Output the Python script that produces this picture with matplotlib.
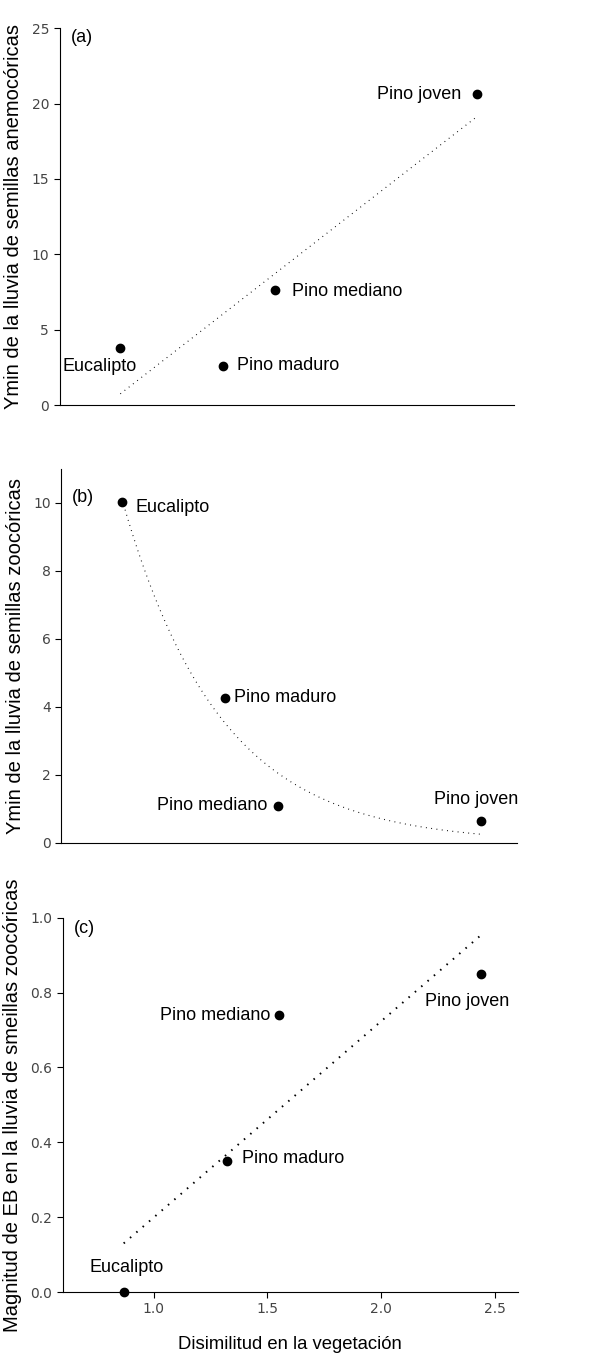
import numpy as np
import matplotlib
matplotlib.use('Agg')
import matplotlib.pyplot as plt

plt.rcParams['font.family'] = ['Liberation Sans', 'DejaVu Sans']

# Datos
sitios = ['Eucalipto', 'Pino maduro', 'Pino mediano', 'Pino joven']
disimilitud = [0.868, 1.32, 1.551, 2.44]
ymin_anemo = [3.81, 2.61, 7.63, 20.62]
ymin_zoo = [10.03, 4.26, 1.10, 0.66]
magnitud_eb = [0.0, 0.35, 0.739, 0.85]

ticks_a = [0, 5, 10, 15, 20, 25]
ticks_b = [0, 2, 4, 6, 8, 10]
ticks_c = [0.0, 0.2, 0.4, 0.6, 0.8, 1.0]
ticks_x = [1.0, 1.5, 2.0, 2.5]

# posicion de las etiquetas (offset en pixeles, alineacion)
etq_a = [(-21, -19, 'center'), (14, 0, 'left'), (17, -1, 'left'), (-16, 0, 'right')]
etq_b = [(13, -6, 'left'), (9, 1, 'left'), (-10, 0, 'right'), (-4, 21, 'center')]
etq_c = [(3, 24, 'center'), (15, 2, 'left'), (-9, 0, 'right'), (-14, -28, 'center')]

fig = plt.figure(figsize=(5.97, 13.65), dpi=100)
px = 1 / 1365.0
ax_a = fig.add_axes([59.5 / 597, 1 - 405 * px, 454 / 597, 376.7 * px])
ax_b = fig.add_axes([61 / 597, 1 - 843 * px, 456 / 597, 374 * px])
ax_c = fig.add_axes([62.7 / 597, 1 - 1292 * px, 455 / 597, 374.3 * px])

x = np.array(disimilitud)


def estilo(ax, yticks, ylim, fmt):
    for s in ['top', 'right']:
        ax.spines[s].set_visible(False)
    ax.set_xlim(0.6, 2.6)
    ax.set_ylim(*ylim)
    ax.set_yticks(yticks)
    ax.set_yticklabels([fmt.format(t) for t in yticks])
    ax.tick_params(direction='out', length=4, width=0.8, colors='black',
                   labelcolor='#444444', labelsize=10)
    for lb in ax.get_yticklabels() + ax.get_xticklabels():
        lb.set_family(['Liberation Sans Narrow', 'DejaVu Sans'])


def etiquetas(ax, yv, pos):
    for nombre, xi, yi, (dx, dy, ha) in zip(sitios, x, yv, pos):
        ax.annotate(nombre, (xi, yi), xytext=(dx * 0.72, dy * 0.72),
                    textcoords='offset points', ha=ha, va='center', fontsize=13)


# (a) regresion lineal
ya = np.array(ymin_anemo)
m, b = np.polyfit(x, ya, 1)
ax_a.plot([x.min(), x.max()], [m * x.min() + b, m * x.max() + b], ':',
          color='black', lw=0.8, dashes=(0.8, 4))
ax_a.plot(x, ya, 'o', color='black', ms=6)
estilo(ax_a, ticks_a, (0, 25), '{:d}')
ax_a.set_xticks([])
etiquetas(ax_a, ya, etq_a)
ax_a.text(11 / 454, 0.975, '(a)', transform=ax_a.transAxes, fontsize=13, va='center')
ax_a.set_ylabel('Ymin de la lluvia de semillas anemocóricas', fontsize=14.5, labelpad=6)

# (b) decaimiento exponencial y = a*exp(k*x), minimos cuadrados
yb = np.array(ymin_zoo)
mejor = None
for k in np.linspace(-5, -0.5, 2001):
    e = np.exp(k * x)
    a = (yb @ e) / (e @ e)
    sse = np.sum((yb - a * e) ** 2)
    if mejor is None or sse < mejor[0]:
        mejor = (sse, a, k)
_, a_b, k_b = mejor
xc = np.linspace(x.min(), x.max(), 200)
ax_b.plot(xc, a_b * np.exp(k_b * xc), ':', color='black', lw=0.8, dashes=(0.8, 4))
ax_b.plot(x, yb, 'o', color='black', ms=6)
estilo(ax_b, ticks_b, (0, 11), '{:d}')
ax_b.set_xticks([])
etiquetas(ax_b, yb, etq_b)
ax_b.text(11 / 456, 10.1 / 11 + 0.005, '(b)', transform=ax_b.transAxes, fontsize=13, va='center')
ax_b.set_ylabel('Ymin de la lluvia de semillas zoocóricas', fontsize=14.5, labelpad=6)

# (c) regresion lineal
yc = np.array(magnitud_eb)
m2, b2 = np.polyfit(x, yc, 1)
ax_c.plot([x.min(), x.max()], [m2 * x.min() + b2, m2 * x.max() + b2], ':',
          color='black', lw=1.4, dashes=(0.8, 3.5))
ax_c.plot(x, yc, 'o', color='black', ms=6, clip_on=False, zorder=3)
estilo(ax_c, ticks_c, (0, 1.0), '{:.1f}')
ax_c.set_xticks(ticks_x)
ax_c.set_xticklabels(['{:.1f}'.format(t) for t in ticks_x])
for lb in ax_c.get_xticklabels():
    lb.set_family(['Liberation Sans Narrow', 'DejaVu Sans'])
etiquetas(ax_c, yc, etq_c)
ax_c.text(11 / 455, 0.97, '(c)', transform=ax_c.transAxes, fontsize=13, va='center')
ax_c.set_ylabel('Magnitud de EB en la lluvia de smeillas zoocóricas', fontsize=14.5, labelpad=6)
ax_c.set_xlabel('Disimilitud en la vegetación', fontsize=13.3, labelpad=14)

fig.savefig('out.png', dpi=100)
